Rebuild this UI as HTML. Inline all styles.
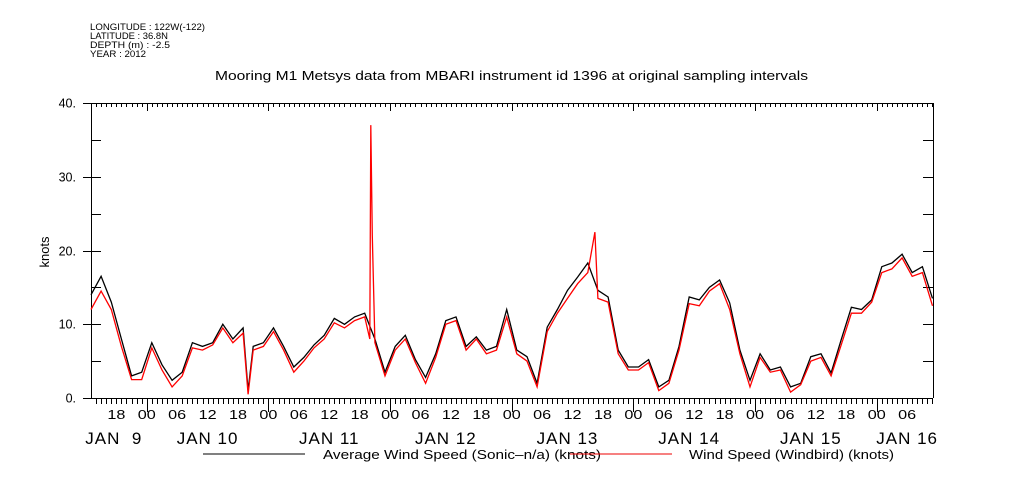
<!DOCTYPE html>
<html><head><meta charset="utf-8"><style>
html,body{margin:0;padding:0;background:#fff;}
svg{display:block;font-family:"Liberation Sans",sans-serif;}
</style></head><body>
<svg id="chart" width="1009" height="504" viewBox="0 0 1009 504" xmlns="http://www.w3.org/2000/svg">
<g font-size="9.5" fill="#000">
<text x="90" y="30" textLength="115" lengthAdjust="spacingAndGlyphs">LONGITUDE : 122W(-122)</text>
<text x="90" y="39" textLength="78" lengthAdjust="spacingAndGlyphs">LATITUDE : 36.8N</text>
<text x="90" y="48" textLength="80" lengthAdjust="spacingAndGlyphs">DEPTH (m) : -2.5</text>
<text x="90" y="57" textLength="56" lengthAdjust="spacingAndGlyphs">YEAR : 2012</text>
</g>
<text x="215" y="80" textLength="593" lengthAdjust="spacingAndGlyphs" font-size="13">Mooring M1 Metsys data from MBARI instrument id 1396 at original sampling intervals</text>
<text transform="translate(49,252) rotate(-90)" text-anchor="middle" font-size="13">knots</text>
<g id="axes"></g>
<g id="series"></g>
<g font-size="13">
<line x1="203" y1="454" x2="305" y2="454" stroke="#000"/>
<text x="323" y="459" textLength="278" lengthAdjust="spacingAndGlyphs">Average Wind Speed (Sonic–n/a) (knots)</text>
<line x1="570" y1="454" x2="672" y2="454" stroke="#e00"/>
<text x="689" y="459" textLength="205" lengthAdjust="spacingAndGlyphs">Wind Speed (Windbird) (knots)</text>
</g>
</svg>
<script>
// hours since Jan 9 00:00
const blackHours = [13,15,17,19,21,23,25,27,29,31,33,35,37,39,41,43,44,45,47,49,51,53,55,57,59,61,63,65,67,69,71,73,75,77,79,81,83,85,87,89,91,93,95,97,99,101,103,105,107,109,111,113,115,117,119,121,123,125,127,129,131,133,135,137,139,141,143,145,147,149,151,153,155,157,159,161,163,165,167,169,171,173,175,177,179];
const blackValues = [14,16.5,13,8,3,3.5,7.5,4.5,2.4,3.5,7.5,7,7.5,10,8,9.5,1,7,7.5,9.5,7,4.2,5.5,7.2,8.5,10.8,10,11,11.5,8,3.5,7,8.5,5.2,2.8,6,10.5,11,7,8.3,6.5,7,12,6.5,5.6,2,9.6,12,14.6,16.4,18.3,14.6,13.7,6.5,4.2,4.2,5.2,1.5,2.4,7,13.7,13.3,15,16,12.9,6.5,2.4,6,3.8,4.2,1.5,2,5.6,6,3.4,7.9,12.3,12,13.3,17.8,18.3,19.5,17,17.8,13.5];
const redHours = [13,15,17,19,21,23,25,27,29,31,33,35,37,39,41,43,44,45,47,49,51,53,55,57,59,61,63,65,67,68,68.2,68.5,69,71,73,75,77,79,81,83,85,87,89,91,93,95,97,99,101,103,105,107,109,111,112.4,113,115,117,119,121,123,125,127,129,131,133,135,137,139,141,143,145,147,149,151,153,155,157,159,161,163,165,167,169,171,173,175,177,179];
const redValues = [12,14.5,12,7,2.5,2.5,6.8,3.8,1.5,3,6.8,6.5,7.2,9.5,7.5,8.8,0.5,6.5,7,9,6.5,3.5,5,6.8,8,10.2,9.5,10.5,11,8,37,22,7.5,3,6.5,8,4.8,2,5.5,10,10.5,6.5,8,6,6.5,11,6,5,1.5,9,11.5,13.5,15.5,17,22.5,13.5,13,6,3.8,3.8,4.8,1,2,6.5,12.8,12.5,14.5,15.5,12,6,1.5,5.5,3.5,3.8,0.8,1.8,5,5.5,3,7.2,11.5,11.5,13,17,17.5,19,16.5,17,12.5];
const yTicks = [0,10,20,30,40];
const yTickLabels = ["0.","10.","20.","30.","40."];
const hourLabels = ["18","00","06","12","18","00","06","12","18","00","06","12","18","00","06","12","18","00","06","12","18","00","06","12","18","00","06"];
const dateLabels = ["JAN  9","JAN 10","JAN 11","JAN 12","JAN 13","JAN 14","JAN 15","JAN 16"];
const dateHours = [17.5,36,60,83,107,131,155,174];

const X0=91,X1=933,Y0=398,Y1=103,H0=13,H1=179.1;
const xs=h=>X0+(h-H0)*(X1-X0)/(H1-H0);
const ys=v=>Y0-(v-0)*(Y0-Y1)/40;
const NS="http://www.w3.org/2000/svg";
function mk(tag,attrs,parent){const e=document.createElementNS(NS,tag);for(const k in attrs)e.setAttribute(k,attrs[k]);parent.appendChild(e);return e;}
const ax=document.getElementById('axes');
let l;
l=mk('line',{x1:X0,y1:Y0+0.5,x2:X1,y2:Y0+0.5,stroke:'#000'},ax);


l=mk('line',{x1:X0-3,y1:Y1+0.5,x2:X1,y2:Y1+0.5,stroke:'#000'},ax);


l=mk('line',{x1:X0+0.5,y1:Y1,x2:X0+0.5,y2:Y0,stroke:'#000'},ax);


l=mk('line',{x1:X1+0.5,y1:Y1,x2:X1+0.5,y2:Y0,stroke:'#000'},ax);


for(let h=14;h<=179;h++){
  const x=Math.round(xs(h))+0.5;const major=(h%24===0);
  l=mk('line',{x1:x,y1:Y0,x2:x,y2:Y0+(major?14:6),stroke:'#000'},ax);
  
  
  l=mk('line',{x1:x,y1:Y1,x2:x,y2:Y1+(major?8:4),stroke:'#000'},ax);
  
  
}
hourLabels.forEach((t,i)=>{const h=18+6*i;
  const e=mk('text',{x:xs(h)-9,y:419,'font-size':'13',textLength:'18',lengthAdjust:'spacingAndGlyphs'},ax);e.textContent=t;
  
  });
dateLabels.forEach((t,i)=>{
  const e=mk('text',{x:xs(dateHours[i]),y:444,'text-anchor':'middle','font-size':'17','letter-spacing':'1'},ax);e.textContent=t;e.style.whiteSpace='pre';
  
  });
for(let v=5;v<40;v+=5){const y=Math.round(ys(v))+0.5;
  l=mk('line',{x1:X0,y1:y,x2:X0+10,y2:y,stroke:'#000'},ax);
  
  
  l=mk('line',{x1:X1-10,y1:y,x2:X1,y2:y,stroke:'#000'},ax);
  
  }
yTicks.forEach((v,i)=>{const y=Math.round(ys(v))+0.5;
  l=mk('line',{x1:X0-8,y1:y,x2:X0,y2:y,stroke:'#000'},ax);
  
  
  const e=mk('text',{x:X0-15,y:y+4,'text-anchor':'end','font-size':'12.5'},ax);e.textContent=yTickLabels[i];
  
  });
const sg=document.getElementById('series');
function path(hs,vs){return hs.map((h,i)=>(i?'L':'M')+xs(h).toFixed(1)+' '+ys(vs[i]).toFixed(1)).join(' ');}
let p=mk('path',{d:path(blackHours,blackValues),fill:'none',stroke:'#000','stroke-width':'1.3'},sg);


p=mk('path',{d:path(redHours,redValues),fill:'none',stroke:'#f00','stroke-width':'1.3'},sg);


</script>
</body></html>
